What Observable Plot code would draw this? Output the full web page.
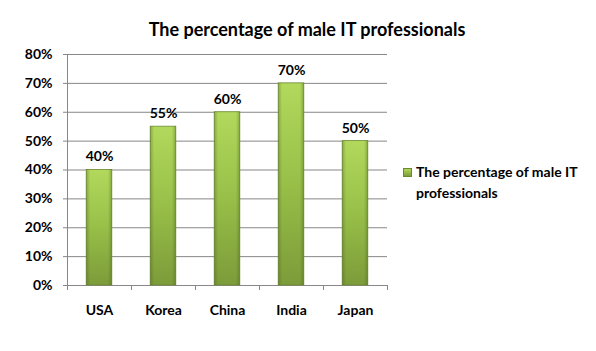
<!DOCTYPE html>
<html><head><meta charset="utf-8">
<script src="https://cdn.jsdelivr.net/npm/d3@7"></script>
<script src="https://cdn.jsdelivr.net/npm/@observablehq/plot@0.6"></script>
<style>
body{margin:0;background:#fff;}
#wrap{position:relative;width:596px;height:351px;font-family:Lato,"Open Sans",sans-serif;font-weight:bold;color:#000;overflow:hidden;}
#chart{position:absolute;left:0;top:0;}
#title{position:absolute;left:0;width:614px;top:19px;text-align:center;font-size:18px;line-height:20px;}
#legend{position:absolute;left:403px;top:161px;width:190px;font-size:14px;line-height:21px;}
#legend .sw{position:absolute;left:0;top:7px;width:7px;height:7px;background:linear-gradient(#b0d85a,#7d9c3b);border:0.5px solid #6b8a2f;}
#legend .tx{position:absolute;left:13px;top:0;width:180px;}
</style></head>
<body>
<div id="wrap">
  <div id="chart"></div>
  <div id="title"></div>
  <div id="legend"><div class="sw"></div><div class="tx"></div></div>
</div>
<script>
const titleText = "The percentage of male IT professionals";
const seriesName = "The percentage of male IT professionals";
const categories = ["USA", "Korea", "China", "India", "Japan"];
const values = [0.40, 0.55, 0.60, 0.70, 0.50];
const yTicks = [0, 0.1, 0.2, 0.3, 0.4, 0.5, 0.6, 0.7, 0.8];

document.getElementById("title").textContent = titleText;
document.querySelector("#legend .tx").textContent = seriesName;

const data = categories.map((c, i) => ({cat: c, i, v: values[i]}));
const pct = d3.format(".0%");

const plot = Plot.plot({
  width: 596,
  height: 351,
  marginLeft: 67,
  marginRight: 209,
  marginTop: 54,
  marginBottom: 66,
  style: {fontFamily: "Lato, 'Open Sans', sans-serif", fontWeight: "bold", fontSize: "14px", color: "#000", background: "transparent"},
  x: {domain: [0, categories.length], axis: null},
  y: {domain: [0, 0.8], axis: null},
  marks: [
    Plot.ruleY(yTicks.filter(t => t > 0), {stroke: "#878787", strokeWidth: 1, strokeOpacity: 1}),
    Plot.axisY({ticks: yTicks, tickFormat: pct, tickSize: 4, tickPadding: 11, label: null, stroke: "#878787", strokeOpacity: 1, fill: "#000", fontSize: 14, fontWeight: "bold"}),
    Plot.axisX({ticks: d3.range(categories.length + 1), tickSize: 5, tickFormat: () => "", label: null, stroke: "#878787", strokeOpacity: 1}),
    Plot.ruleX([0], {stroke: "#878787", strokeOpacity: 1}),
    Plot.ruleY([0], {stroke: "#878787", strokeOpacity: 1}),
    Plot.rectY(data, {x1: d => d.i, x2: d => d.i + 1, y: "v", insetLeft: 19.2, insetRight: 19.2, fill: "url(#barGrad)", stroke: "#6f8d33", strokeWidth: 0.8}),
    Plot.rectY(data, {x1: d => d.i, x2: d => d.i + 1, y: "v", insetLeft: 19.2, insetRight: 19.2, fill: "url(#edgeGrad)"}),
    Plot.text(data, {x: d => d.i + 0.5, y: "v", text: d => pct(d.v), dy: -13, fill: "#000", fontSize: 14, fontWeight: "bold"}),
    Plot.text(data, {x: d => d.i + 0.5, y: 0, text: "cat", dy: 25, fill: "#000", fontSize: 14, fontWeight: "bold"})
  ]
});

// gradients for the bar fill
const ns = "http://www.w3.org/2000/svg";
const defs = document.createElementNS(ns, "defs");
defs.innerHTML = `
  <linearGradient id="barGrad" x1="0" y1="0" x2="0" y2="1">
    <stop offset="0" stop-color="#b2d95c"/>
    <stop offset="0.5" stop-color="#98bf48"/>
    <stop offset="1" stop-color="#7c9b3a"/>
  </linearGradient>
  <linearGradient id="edgeGrad" x1="0" y1="0" x2="1" y2="0">
    <stop offset="0" stop-color="#3f5518" stop-opacity="0.35"/>
    <stop offset="0.15" stop-color="#3f5518" stop-opacity="0"/>
    <stop offset="0.85" stop-color="#3f5518" stop-opacity="0"/>
    <stop offset="1" stop-color="#3f5518" stop-opacity="0.35"/>
  </linearGradient>`;
plot.insertBefore(defs, plot.firstChild);
document.getElementById("chart").appendChild(plot);
</script>
</body></html>
